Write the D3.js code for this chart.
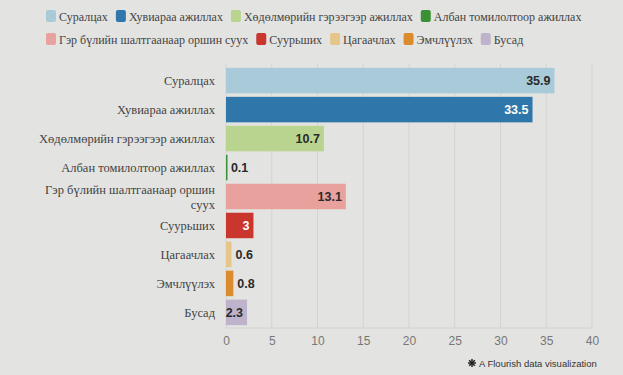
<!DOCTYPE html>
<html><head><meta charset="utf-8">
<script src="https://cdn.jsdelivr.net/npm/d3@7"></script>
<style>
html,body{margin:0;padding:0;background:#e3e3e1;}
svg{display:block;}
</style></head>
<body>
<svg id="c" width="623" height="375"></svg>
<script>
const categories = ["Суралцах","Хувиараа ажиллах","Хөдөлмөрийн гэрээгээр ажиллах","Албан томилолтоор ажиллах","Гэр бүлийн шалтгаанаар оршин суух","Суурьших","Цагаачлах","Эмчлүүлэх","Бусад"];
const values = [35.9,33.5,10.7,0.1,13.1,3,0.6,0.8,2.3];
const colors = ["#a9cad9","#2f77aa","#b9d48f","#3b8f36","#e8a19c","#c8362e","#e6c58b","#db8a2e","#bfb3cc"];
const labelDark = [true,false,true,true,true,false,true,true,true];
const ticks = [0,5,10,15,20,25,30,35,40];
const credit = "A Flourish data visualization";
const SERIF = "Liberation Serif";

const svg = d3.select("#c");
const x = d3.scaleLinear().domain([0,40]).range([226,592]);
const y = d3.scaleBand().domain(categories).range([67,326]).paddingInner(0.12).paddingOuter(0.03);

// legend
const legendRows = [[0,1,2,3],[4,5,6,7,8]];
legendRows.forEach((row,ri)=>{
  let cx = 46;
  const ly = 17 + ri*23;
  row.forEach(i=>{
    svg.append("rect").attr("x",cx).attr("y",ly-7).attr("width",10).attr("height",12).attr("rx",2).attr("fill",colors[i]);
    const t = svg.append("text").attr("font-family",SERIF).attr("x",cx+13).attr("y",ly+3.5).attr("font-size",12).attr("fill","#444").text(categories[i]);
    cx += 13 + t.node().getComputedTextLength() + 8;
  });
});

// gridlines
svg.append("g").selectAll("line").data(ticks).join("line")
  .attr("x1",d=>x(d)).attr("x2",d=>x(d)).attr("y1",64).attr("y2",328)
  .attr("stroke","#d3d3d1").attr("stroke-width",1);
svg.append("line").attr("x1",x(0)).attr("x2",x(40)).attr("y1",328).attr("y2",328).attr("stroke","#d3d3d1");

// axis
const ax = svg.append("g").attr("transform","translate(0,328)")
  .call(d3.axisBottom(x).tickValues(ticks).tickSize(0).tickPadding(8));
ax.select(".domain").remove();
ax.selectAll("text").attr("font-family","Liberation Sans").attr("font-size",12).attr("fill","#777");

// bars
svg.append("g").selectAll("rect").data(values).join("rect")
  .attr("x",x(0)).attr("y",(d,i)=>y(categories[i]))
  .attr("width",d=>Math.max(1.5,x(d)-x(0))).attr("height",y.bandwidth())
  .attr("fill",(d,i)=>colors[i]);

// y labels
const yl = svg.append("g");
categories.forEach((c,i)=>{
  const cy = y(c)+y.bandwidth()/2;
  const t = yl.append("text").attr("font-family",SERIF).attr("x",215).attr("text-anchor","end")
    .attr("font-size",12.5).attr("fill","#444");
  if(c.length>30){
    t.append("tspan").attr("x",215).attr("y",cy-3).text("Гэр бүлийн шалтгаанаар оршин");
    t.append("tspan").attr("x",215).attr("y",cy+12).text("суух");
  } else {
    t.attr("y",cy+4.5).text(c);
  }
});

// value labels
svg.append("g").selectAll("text").data(values).join("text")
  .each(function(d,i){
    const w = x(d)-x(0);
    const inside = w > 20;
    d3.select(this)
      .attr("x", inside ? x(d)-4 : x(d)+4)
      .attr("text-anchor", inside ? "end":"start")
      .attr("y", y(categories[i])+y.bandwidth()/2+4.5)
      .attr("fill", inside ? (labelDark[i] ? "#2a2a2a":"#ffffff") : "#2a2a2a");
  })
  .attr("font-family","Liberation Sans").attr("font-weight","bold").attr("font-size",12.5)
  .text(d=>d);

// credit
const cr = svg.append("g").attr("transform","translate(472,363)");
const star = d3.range(8).map(k=>k*Math.PI/4);
star.forEach(a=>cr.append("line").attr("x1",0).attr("y1",0).attr("x2",4*Math.cos(a)).attr("y2",4*Math.sin(a)).attr("stroke","#222").attr("stroke-width",1.5));
cr.append("text").attr("x",7).attr("y",3.5).attr("font-family","Liberation Sans").attr("font-size",9.5).attr("fill","#333").text(credit);
</script>
</body></html>
